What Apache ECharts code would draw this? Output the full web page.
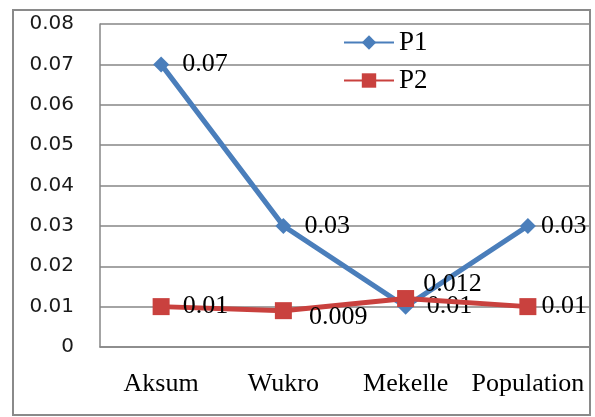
<!DOCTYPE html>
<html>
<head>
    <meta charset="utf-8">
    <title>P1 / P2</title>
    <script src="https://cdn.jsdelivr.net/npm/echarts@6/dist/echarts.min.js"></script>
</head>
<style>
  html, body { margin: 0; padding: 0; background: #fff; }
</style>
<body>
    <div id="main" style="width: 595px;height:417px;"></div>
    <script type="text/javascript">
    // data
    var categories = ['Aksum', 'Wukro', 'Mekelle', 'Population'];
    var p1 = [0.07, 0.03, 0.01, 0.03];
    var p2 = [0.01, 0.009, 0.012, 0.01];

    var myChart = echarts.init(document.getElementById('main'));

    var serif = 'Liberation Serif';

    // labels sit to the right of each point; a few get nudged
    function p1Data() {
        return p1.map(function (v, i) {
            var d = { value: v };
            if (i == 3) d.label = { offset: [-8, 0] };
            return d;
        });
    }
    function p2Data() {
        return p2.map(function (v, i) {
            var d = { value: v };
            if (i == 1) d.label = { offset: [4, 7] };
            if (i == 2) d.label = { offset: [-4, -14] };
            if (i == 3) d.label = { offset: [-8, 0] };
            return d;
        });
    }

    var option = {
        animation: false,
        graphic: [{
            type: 'rect',
            shape: { x: 13, y: 10, width: 577, height: 405 },
            style: { fill: 'none', stroke: '#8a8a8a', lineWidth: 2 },
            z: 100
        }],
        legend: {
            orient: 'vertical',
            left: 338,
            top: 24,
            itemWidth: 50,
            itemHeight: 18,
            itemGap: 11,
            textStyle: { fontFamily: serif, fontSize: 27, color: '#000' },
            data: ['P1', 'P2']
        },
        grid: {
            left: 100,
            right: 6,
            top: 24,
            bottom: 70
        },
        xAxis: {
            type: 'category',
            data: categories,
            boundaryGap: true,
            axisLine: { lineStyle: { color: '#868686', width: 1.5 } },
            axisTick: { show: false },
            axisLabel: {
                fontFamily: serif,
                fontSize: 26,
                color: '#000',
                margin: 24,
                interval: 0
            }
        },
        yAxis: {
            type: 'value',
            min: 0,
            max: 0.08,
            interval: 0.01,
            axisLine: { show: true, lineStyle: { color: '#868686', width: 1.5 } },
            axisTick: { show: false },
            splitLine: { lineStyle: { color: '#868686', width: 1.5 } },
            axisLabel: {
                fontFamily: 'DejaVu Sans',
                fontSize: 20,
                color: '#1a1a1a',
                margin: 26,
                formatter: function (v) {
                    return v == 0 ? '0' : v.toFixed(2);
                }
            }
        },
        series: [{
            name: 'P1',
            type: 'line',
            data: p1Data(),
            symbol: 'diamond',
            symbolSize: 16,
            lineStyle: { color: '#4a7ebb', width: 5 },
            itemStyle: { color: '#4a7ebb' },
            label: {
                show: true,
                position: 'right',
                distance: 13,
                fontFamily: serif,
                fontSize: 26,
                color: '#000'
            },
            z: 2
        }, {
            name: 'P2',
            type: 'line',
            data: p2Data(),
            symbol: 'rect',
            symbolSize: 17,
            lineStyle: { color: '#c9413e', width: 5 },
            itemStyle: { color: '#c9413e' },
            label: {
                show: true,
                position: 'right',
                distance: 13,
                fontFamily: serif,
                fontSize: 26,
                color: '#000'
            },
            z: 3
        }]
    };
    myChart.setOption(option);
    </script>
</body>
</html>
